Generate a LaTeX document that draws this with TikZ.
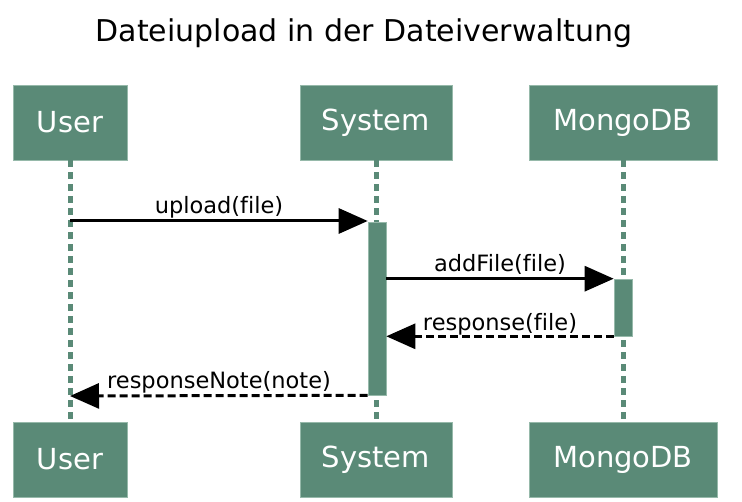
\documentclass[tikz,border=0pt]{standalone}
\usepackage{fontspec}
\setmainfont[Ligatures=NoCommon]{DejaVu Sans}
\usetikzlibrary{arrows.meta}
\definecolor{boxgreen}{RGB}{90,138,119}
\definecolor{boxedge}{RGB}{150,185,170}
\tikzset{
  actor/.style={rectangle, fill=boxgreen, draw=boxedge, line width=0.8pt, text=white,
    font=\fontsize{29}{32}\selectfont, inner sep=0pt, minimum height=75pt},
  lifeline/.style={draw=boxgreen, line width=5pt, dash pattern=on 7pt off 5pt},
  actbar/.style={rectangle, fill=boxgreen, draw=boxedge, line width=0.6pt, inner sep=0pt, minimum width=18pt},
  callarrow/.style={draw=black, line width=3pt, -{Triangle[length=29pt,width=25pt]}},
  retarrow/.style={draw=black, line width=3pt, dash pattern=on 8pt off 4pt, -{Triangle[length=29pt,width=25pt]}},
  msg/.style={font=\fontsize{22.5}{25}\selectfont, inner sep=0pt, anchor=base},
}
\begin{document}
\begin{tikzpicture}[x=1pt,y=-1pt]
\useasboundingbox (0,0) rectangle (742,502);
\node[font=\fontsize{30}{34}\selectfont] (title) at (364,33) {Dateiupload in der Dateiverwaltung};
% actors
\node[actor, minimum width=114pt] (utop) at (70,122.5) {User};
\node[actor, minimum width=152pt] (stop) at (376,122.5) {System};
\node[actor, minimum width=188pt] (mtop) at (623,122.5) {MongoDB};
\node[actor, minimum width=114pt] (ubot) at (70,459.5) {User};
\node[actor, minimum width=152pt] (sbot) at (376,459.5) {System};
\node[actor, minimum width=188pt] (mbot) at (623,459.5) {MongoDB};
% lifelines
\draw[lifeline] (utop.south) -- (ubot.north);
\draw[lifeline] (stop.south) -- (sbot.north);
\draw[lifeline] (mtop.south) -- (mbot.north);
% activation bars
\node[actbar, minimum height=173pt] (sact) at (377,308.5) {};
\node[actbar, minimum height=57pt] (mact) at (623,307.5) {};
% messages
\coordinate (ustart) at (70,221);
\coordinate (uend) at (70,396);
\draw[callarrow] (ustart) -- (ustart -| sact.west);
\draw[callarrow] (sact.east |- mact.north) -- (mact.north west);
\draw[retarrow] (mact.south west) -- (sact.east |- mact.south);
\draw[retarrow] (sact.south west) -- (uend);
% labels
\node[msg] (l1) at (219,214) {upload(file)};
\node[msg] (l2) at (500,272) {addFile(file)};
\node[msg] (l3) at (500,331) {response(file)};
\node[msg] (l4) at (219,389) {responseNote(note)};
\end{tikzpicture}
\end{document}
